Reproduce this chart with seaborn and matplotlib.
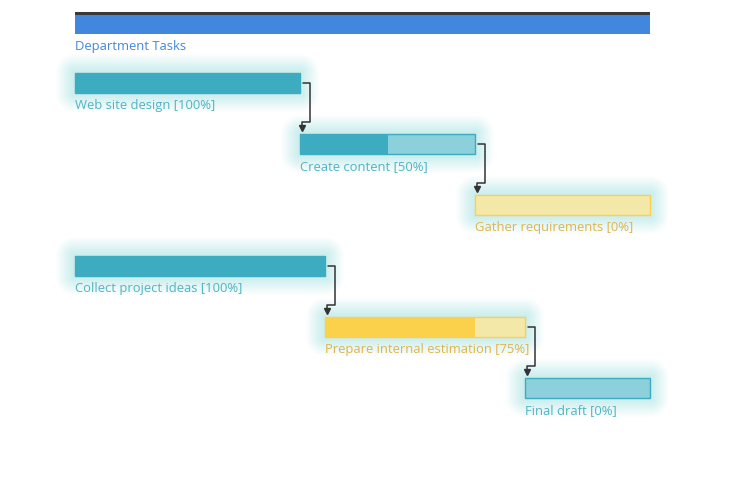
"""
Gantt chart of department tasks with dependency arrows.
"""

import matplotlib
matplotlib.use("Agg")
import matplotlib.pyplot as plt
from matplotlib.patches import Rectangle
import seaborn as sns

# data (days from project start)
SUMMARY_LABEL = "Department Tasks"
tasks = [
    "Web site design",
    "Create content",
    "Gather requirements",
    "Collect project ideas",
    "Prepare internal estimation",
    "Final draft",
]
starts = [0, 9, 16, 0, 10, 18]
ends = [9, 16, 23, 10, 18, 23]
progress = [100, 50, 0, 100, 75, 0]
groups = ["teal", "teal", "yellow", "teal", "yellow", "teal"]
deps = [(0, 1), (1, 2), (3, 4), (4, 5)]

PALETTE = {
    "teal": {"done": "#3eacc0", "todo": "#8bd0da", "edge": "#3eacc0", "text": "#52b3c4"},
    "yellow": {"done": "#fbd04b", "todo": "#f4e8a9", "edge": "#fbd04b", "text": "#dfb54a"},
}
SUMMARY_COLOR = "#4287de"
SUMMARY_TOP = "#383838"
LINE_COLOR = "#333333"
GLOW = "#6fdcdc"

# pixel geometry helpers: 1 day = 25px, 1 row = 61px, row 1 centred at y=83px
PX_X = 1 / 25
PX_Y = 1 / 61
BAR_H = 20 * PX_Y
PT = 0.72  # points per pixel at dpi 100


def py(px):
    return 1 + (px - 83) * PX_Y


sns.set_theme(style="white")
plt.rcParams["font.family"] = ["Open Sans", "DejaVu Sans"]

fig = plt.figure(figsize=(7.5, 4.92), dpi=100)
ax = fig.add_axes([0, 0, 1, 1])
ax.set_xlim(-75 * PX_X, 675 * PX_X)
ax.set_ylim(py(492), py(0))
ax.axis("off")

# summary bar
s0, s1 = min(starts), max(ends)
ax.barh(py(24.5), s1 - s0, left=s0, height=19 * PX_Y,
        color=SUMMARY_COLOR, linewidth=0)
ax.barh(py(13.5), s1 - s0, left=s0, height=3 * PX_Y,
        color=SUMMARY_TOP, linewidth=0)
ax.text(s0, py(40), SUMMARY_LABEL, color=SUMMARY_COLOR,
        fontsize=9.4, va="top", ha="left")

for i, (name, st, en, pr, grp) in enumerate(zip(tasks, starts, ends, progress, groups)):
    row = i + 1
    col = PALETTE[grp]
    w = en - st
    y0 = row - BAR_H / 2
    # soft rounded glow: thick translucent outlines with round joins
    for k in range(1, 20):
        ax.add_patch(Rectangle((st, y0), w, BAR_H, facecolor=GLOW, edgecolor=GLOW,
                               alpha=0.02, linewidth=2 * k * PT, joinstyle="round",
                               zorder=1))
    ax.barh(row, w, left=st, height=BAR_H, color=col["todo"], linewidth=0, zorder=2)
    if pr > 0:
        ax.barh(row, w * pr / 100, left=st, height=BAR_H, color=col["done"],
                linewidth=0, zorder=3)
    ax.add_patch(Rectangle((st, y0), w, BAR_H, fill=False, edgecolor=col["edge"],
                           linewidth=1.0, zorder=4))
    ax.text(st, row + BAR_H / 2 + 6 * PX_Y, f"{name} [{pr}%]", color=col["text"],
            fontsize=9.4, va="top", ha="left")

# dependency connectors
for a, b in deps:
    ra, rb = a + 1, b + 1
    xa = ends[a]
    xb = starts[b]
    top_b = rb - BAR_H / 2
    xs = [xa + 3 * PX_X, xa + 10 * PX_X, xa + 10 * PX_X, xb + 2 * PX_X, xb + 2 * PX_X]
    ys = [ra, ra, top_b - 12 * PX_Y, top_b - 12 * PX_Y, top_b - 6 * PX_Y]
    ax.plot(xs, ys, color=LINE_COLOR, linewidth=1.1, zorder=5)
    ax.plot(xb + 2 * PX_X, top_b - 6 * PX_Y, marker="v", markersize=4,
            color=LINE_COLOR, zorder=5)

plt.savefig("out.png", dpi=100)
plt.close()
